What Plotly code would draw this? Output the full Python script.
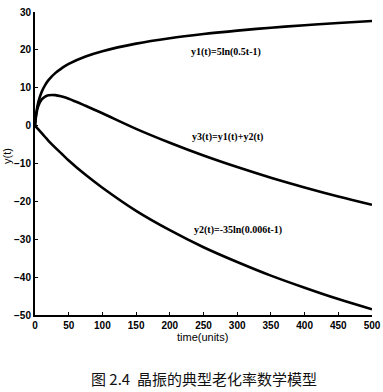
import plotly.graph_objects as go

t = [0, 2, 5, 10, 15, 20, 30, 40, 50, 75, 100, 150, 200, 250, 300, 350, 400, 450, 500]
y1 = [0, 3.47, 6.26, 8.96, 10.7, 12.0, 13.86, 15.2, 16.3, 18.25, 19.66, 21.65, 23.08, 24.18, 25.09, 25.85, 26.52, 27.10, 27.63]
y2 = [0, -0.42, -1.0, -2.0, -3.0, -4.0, -5.8, -7.5, -9.2, -13.0, -16.4, -22.5, -27.6, -32.1, -36.0, -39.6, -42.8, -45.8, -48.5]
y3 = [0, 3.05, 5.23, 6.92, 7.68, 8.02, 8.06, 7.67, 7.12, 5.25, 3.26, -0.85, -4.52, -7.89, -10.94, -13.75, -16.31, -18.70, -20.89]

xticks = [0, 50, 100, 150, 200, 250, 300, 350, 400, 450, 500]
yticks = [30, 20, 10, 0, -10, -20, -30, -40, -50]

labels = [
    ("y1(t)=5ln(0.5t-1)", 283, 19.5),
    ("y3(t)=y1(t)+y2(t)", 285, -3.0),
    ("y2(t)=-35ln(0.006t-1)", 301, -27.5),
]
caption = "图 2.4  晶振的典型老化率数学模型"

fig = go.Figure()
for ys in (y1, y2, y3):
    fig.add_trace(go.Scatter(x=t, y=ys, mode="lines", line=dict(color="black", width=2.6, shape="spline"),
                             showlegend=False, hoverinfo="skip"))

for txt, xx, yy in labels:
    fig.add_annotation(x=xx, y=yy, text=txt, showarrow=False, xref="x", yref="y",
                       font=dict(family="Liberation Serif, DejaVu Serif, serif", size=10, color="black",
                                 weight="bold"))

tickfont = dict(family="Liberation Sans Narrow, Arial Narrow, Liberation Sans, sans-serif", size=10,
                color="black", weight="bold")
titlefont = dict(family="Liberation Sans Narrow, Arial Narrow, Liberation Sans, sans-serif", size=11,
                 color="black")

fig.add_annotation(x=0.5, y=-0.208, xref="paper", yref="paper", text=caption, showarrow=False,
                   font=dict(family="Noto Sans CJK SC", size=15, color="#111"), xanchor="center", yanchor="middle")
fig.add_annotation(x=0.496, y=-0.073, xref="paper", yref="paper", text="time(units)", showarrow=False,
                   font=titlefont, xanchor="center", yanchor="middle")
fig.add_annotation(x=-0.083, y=0.525, xref="paper", yref="paper", text="y(t)", showarrow=False, textangle=-90,
                   font=titlefont, xanchor="center", yanchor="middle")

fig.update_xaxes(range=[0, 500], tickvals=xticks, ticks="inside", ticklen=3, tickcolor="black",
                 showline=True, linecolor="black", linewidth=2, showgrid=False, zeroline=False,
                 tickfont=tickfont, automargin=False)
fig.update_yaxes(range=[-50, 30], tickvals=yticks, ticks="inside", ticklen=3, tickcolor="black",
                 showline=True, linecolor="black", linewidth=2, showgrid=False, zeroline=False,
                 tickfont=tickfont, automargin=False)

fig.update_layout(width=383, height=392, margin=dict(l=35, r=11, t=12, b=77),
                  plot_bgcolor="white", paper_bgcolor="white")
fig.write_html("out.html", config={"displayModeBar": False},
               post_script="document.body.style.margin='0';document.body.style.overflow='hidden';")
